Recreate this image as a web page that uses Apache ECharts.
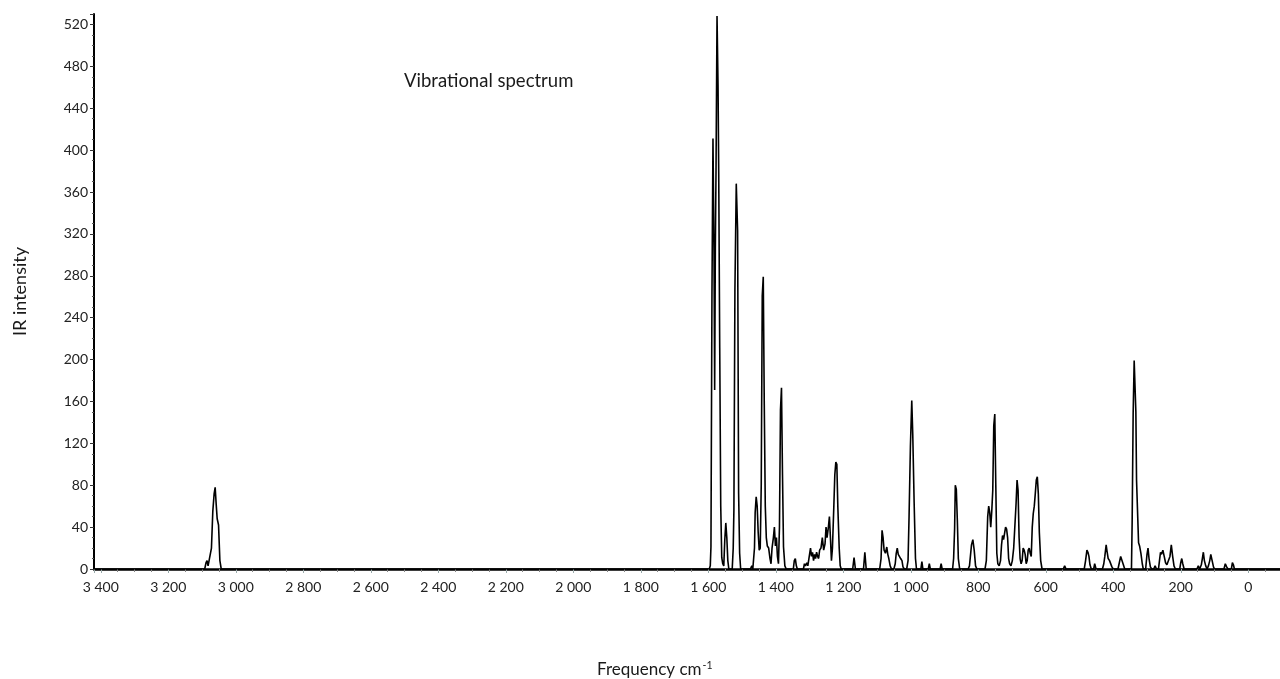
<!DOCTYPE html>
<html>
<head>
<meta charset="utf-8">
<title>Vibrational spectrum</title>
<script src="https://cdn.jsdelivr.net/npm/echarts@6/dist/echarts.min.js"></script>
<style>
  html, body { margin: 0; padding: 0; background: #fff; }
  #chart { width: 1280px; height: 679px; }
</style>
</head>
<body>
<div id="chart"></div>
<script>
// IR band points as [wavenumber cm-1, intensity], high to low wavenumber
const chStretch = [
  [3420, 0], [3100, 0], [3092, 0], [3088, 6], [3085, 8], [3082, 3], [3077, 2],
  [3072, 20], [3068, 55], [3064, 72], [3061, 78], [3058, 62], [3055, 48],
  [3051, 42], [3047, 8], [3043, 0], [1605, 0]
];
const ringStretch = [
  [1597, 0], [1594, 3], [1592, 21], [1589, 263], [1586, 411], [1583, 305],
  [1581, 171], [1579, 305], [1577, 380], [1574, 528], [1571, 462], [1569, 379],
  [1566, 211], [1563, 60], [1560, 11], [1557, 5], [1554, 3], [1551, 28],
  [1548, 44], [1545, 30], [1542, 8], [1539, 0],
  [1529, 0], [1526, 20], [1524, 56], [1521, 266], [1517, 368], [1513, 323],
  [1510, 72], [1507, 15], [1504, 0],
  [1475, 0], [1471, 3], [1468, 0],
  [1466, 0], [1463, 20], [1461, 54], [1458, 69], [1455, 60], [1452, 35],
  [1449, 18], [1446, 20], [1443, 80], [1440, 261], [1437, 279], [1434, 157],
  [1431, 60], [1428, 30], [1425, 22], [1421, 20], [1417, 10], [1414, 5],
  [1411, 20], [1407, 30], [1404, 40], [1401, 22], [1398, 30], [1395, 12],
  [1392, 5], [1389, 40], [1386, 152], [1383, 173], [1380, 90], [1377, 21],
  [1373, 3], [1369, 0]
];
const midBands = [
  [1348, 0], [1345, 8], [1342, 10], [1339, 3], [1336, 0],
  [1318, 0], [1315, 5], [1312, 3], [1308, 6], [1305, 3],
  [1300, 3], [1297, 20], [1294, 12], [1291, 16], [1288, 8], [1285, 14],
  [1282, 10], [1279, 16], [1276, 12], [1273, 10], [1270, 18], [1266, 20],
  [1262, 30], [1258, 18], [1254, 24], [1251, 40], [1248, 30], [1244, 40],
  [1241, 50], [1238, 30], [1235, 8], [1232, 20], [1228, 59], [1225, 90],
  [1222, 102], [1219, 100], [1216, 59], [1212, 20], [1209, 3], [1206, 0],
  [1172, 0], [1168, 11], [1164, 0],
  [1140, 0], [1136, 16], [1132, 0],
  [1092, 0], [1088, 10], [1085, 37], [1082, 30], [1079, 18], [1075, 15],
  [1071, 21], [1068, 14], [1065, 10], [1061, 3], [1057, 0],
  [1050, 0], [1046, 5], [1043, 15], [1040, 20], [1037, 14], [1034, 15],
  [1030, 10], [1026, 8], [1023, 2], [1019, 0],
  [1012, 0], [1008, 8], [1005, 50], [1001, 117], [997, 161], [994, 128],
  [990, 64], [986, 10], [983, 0],
  [970, 0], [967, 7], [964, 0], [948, 0], [945, 5], [942, 0],
  [913, 0], [910, 5], [907, 0]
];
const lowBands = [
  [876, 0], [873, 10], [870, 39], [868, 80], [865, 76], [862, 47], [859, 10], [855, 0],
  [830, 0], [826, 3], [820, 23], [816, 28], [812, 18], [808, 3], [804, 0],
  [780, 0], [776, 8], [772, 50], [769, 60], [766, 54], [763, 40], [760, 55],
  [757, 75], [754, 137], [751, 148], [748, 80], [745, 15], [742, 5], [738, 3],
  [734, 8], [731, 23], [728, 32], [725, 28], [722, 34], [719, 40], [716, 38],
  [713, 30], [710, 10], [707, 5], [703, 3], [699, 8], [695, 20], [692, 38],
  [688, 62], [685, 85], [682, 75], [679, 30], [676, 10], [673, 5], [670, 8],
  [667, 20], [664, 18], [661, 14], [658, 5], [655, 8], [652, 18], [649, 20],
  [646, 15], [643, 12], [640, 40], [637, 53], [634, 60], [631, 72], [628, 85],
  [625, 88], [622, 72], [619, 35], [615, 8], [611, 0],
  [548, 0], [544, 3], [540, 0], [500, 0], [497, 1], [494, 0],
  [486, 0], [482, 8], [478, 18], [475, 16], [472, 12], [469, 4], [465, 0],
  [458, 0], [455, 5], [451, 0],
  [432, 0], [428, 5], [425, 12], [421, 23], [418, 16], [415, 10], [411, 8],
  [408, 7], [404, 2], [400, 0],
  [386, 0], [382, 6], [378, 12], [374, 12], [370, 4], [366, 0],
  [346, 0], [344, 45], [341, 149], [338, 199], [335, 199], [333, 150],
  [331, 85], [328, 85], [325, 25], [322, 22], [318, 15], [314, 5], [311, 0],
  [304, 0], [300, 14], [297, 20], [294, 10], [290, 2], [286, 0],
  [280, 0], [276, 3], [272, 0],
  [266, 0], [263, 8], [260, 16], [257, 14], [253, 18], [249, 12], [245, 6],
  [241, 4], [236, 3], [232, 12], [228, 23], [224, 12], [220, 3], [216, 0],
  [203, 0], [200, 6], [197, 10], [194, 5], [190, 0],
  [152, 0], [148, 3], [144, 0],
  [142, 0], [139, 4], [136, 10], [133, 16], [130, 8], [126, 3], [122, 0],
  [118, 3], [114, 8], [111, 14], [107, 8], [103, 2], [100, 0],
  [72, 0], [68, 5], [64, 2], [60, 0], [50, 0], [47, 6], [44, 4], [41, 0],
  [-200, 0]
];

// Axis ranges and tick steps
const xRange = { min: -200, max: 3420, step: 200 };
const yRange = { min: 0, max: 530, step: 40 };
const chartTitle = 'Vibrational spectrum';
const yTitle = 'IR intensity';

const spectrum = chStretch.concat(ringStretch, midBands, lowBands);
const FONT = 'Lato, "Open Sans", sans-serif';

function groupThousands(v) {
  return String(v).replace(/\B(?=(\d{3})+(?!\d))/g, ' ');
}

const chart = echarts.init(document.getElementById('chart'), null, { renderer: 'canvas' });
chart.setOption({
  animation: false,
  backgroundColor: '#ffffff',
  title: [
    {
      text: chartTitle,
      left: 399,
      top: 67,
      textStyle: { fontFamily: FONT, fontSize: 18.5, fontWeight: 'normal', color: '#1a1a1a' }
    },
    {
      text: '{a|Frequency cm}{b|-1}',
      left: 592,
      top: 655,
      textStyle: {
        fontWeight: 'normal',
        rich: {
          a: { fontFamily: FONT, fontSize: 17, fontWeight: 'normal', color: '#1a1a1a' },
          b: { fontFamily: FONT, fontSize: 10.5, fontWeight: 'normal', color: '#1a1a1a', verticalAlign: 'top', padding: [0, 0, 9, 1] }
        }
      }
    }
  ],
  // plot area runs past the right edge of the canvas, so the axis is cut at the border
  grid: {
    left: 94, top: 14, height: 555, width: 1221.75,
    containLabel: false,
    outerBoundsMode: 'none'
  },
  xAxis: {
    type: 'value',
    inverse: true,
    min: xRange.min,
    max: xRange.max,
    interval: xRange.step,
    axisLine: { show: true, onZero: false, lineStyle: { color: '#000', width: 2.5 } },
    axisTick: { show: true, length: 4, lineStyle: { color: '#9aa', width: 1 } },
    minorTick: { show: true, splitNumber: 4, length: 3, lineStyle: { color: '#888', width: 1 } },
    splitLine: { show: false },
    axisLabel: {
      fontFamily: FONT,
      fontSize: 14,
      color: '#222',
      margin: 11,
      showMinLabel: true,
      showMaxLabel: true,
      formatter: function (v) {
        if (v < 0 || v % xRange.step !== 0) return '';
        return groupThousands(v);
      }
    }
  },
  yAxis: {
    type: 'value',
    min: yRange.min,
    max: yRange.max,
    interval: yRange.step,
    name: yTitle,
    nameLocation: 'middle',
    nameGap: 65,
    nameRotate: 90,
    nameTextStyle: { fontFamily: FONT, fontSize: 18, color: '#1a1a1a' },
    axisLine: { show: true, onZero: false, lineStyle: { color: '#000', width: 2 } },
    axisTick: { show: true, length: 4, lineStyle: { color: '#333', width: 1 } },
    minorTick: { show: true, splitNumber: 4, length: 2, lineStyle: { color: '#555', width: 1 } },
    splitLine: { show: false },
    axisLabel: {
      fontFamily: FONT,
      fontSize: 14,
      color: '#222',
      margin: 6,
      formatter: function (v) {
        return v % yRange.step === 0 ? String(v) : '';
      }
    }
  },
  series: [
    {
      type: 'line',
      data: spectrum,
      showSymbol: false,
      symbol: 'none',
      clip: true,
      lineStyle: { color: '#000', width: 1.6 },
      z: 3
    }
  ]
});
</script>
</body>
</html>
